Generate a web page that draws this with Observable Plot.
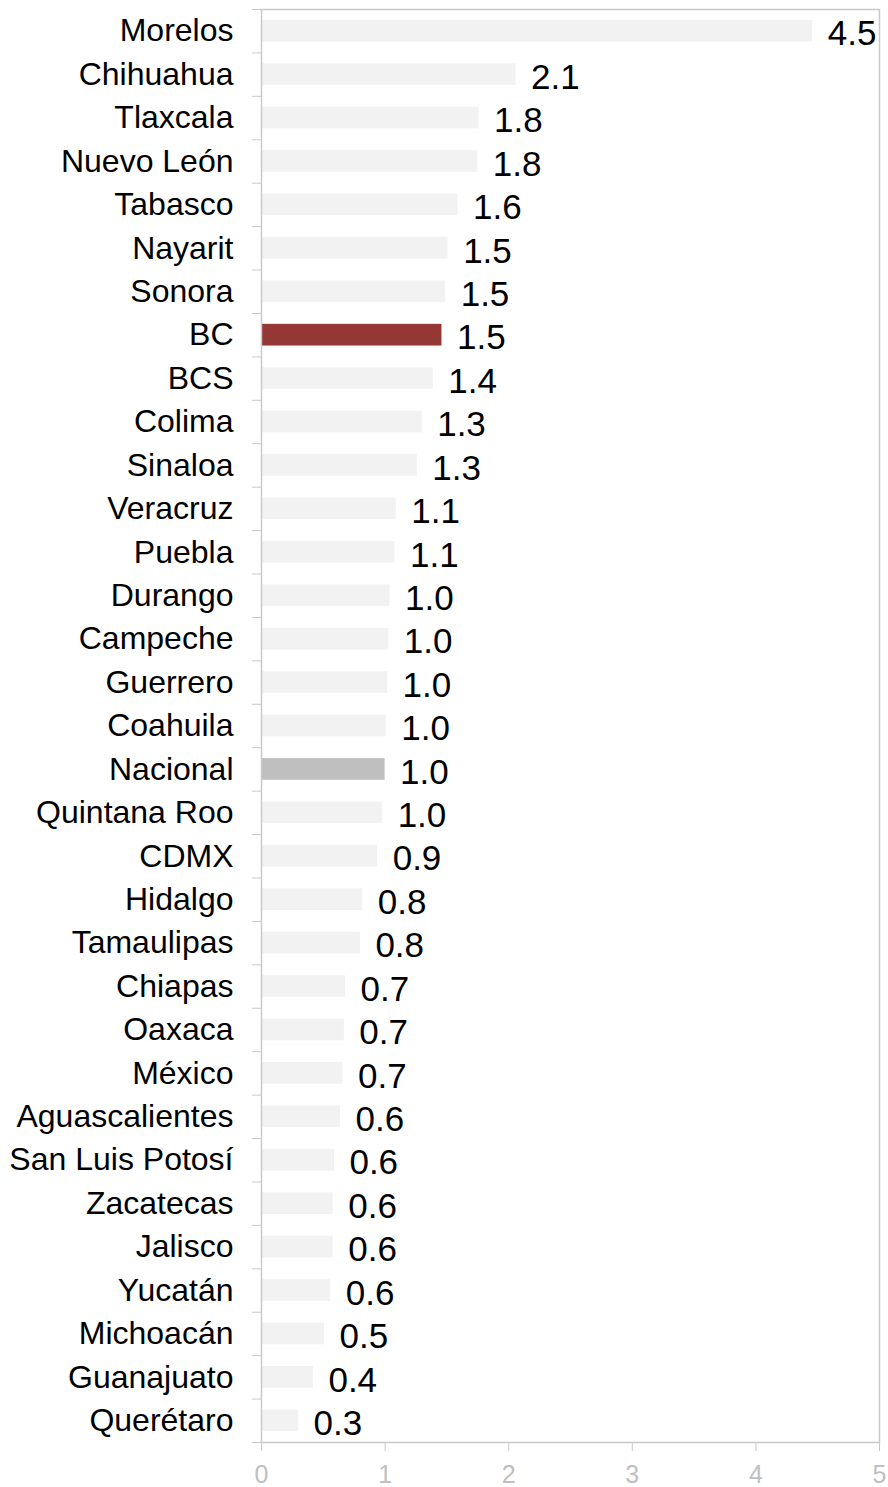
<!DOCTYPE html>
<html>
<head>
<meta charset="utf-8">
<script src="https://cdn.jsdelivr.net/npm/d3@7"></script>
<script src="https://cdn.jsdelivr.net/npm/@observablehq/plot@0.6"></script>
<style>
  html, body { margin: 0; padding: 0; background: #fff; }
  #chart svg { display: block; }
</style>
</head>
<body>
<div id="chart"></div>
<script>
// Categories (top to bottom)
const states = [
  "Morelos", "Chihuahua", "Tlaxcala", "Nuevo León", "Tabasco", "Nayarit", "Sonora",
  "BC", "BCS", "Colima", "Sinaloa", "Veracruz", "Puebla", "Durango", "Campeche",
  "Guerrero", "Coahuila", "Nacional", "Quintana Roo", "CDMX", "Hidalgo", "Tamaulipas",
  "Chiapas", "Oaxaca", "México", "Aguascalientes", "San Luis Potosí", "Zacatecas",
  "Jalisco", "Yucatán", "Michoacán", "Guanajuato", "Querétaro"
];
// Values
const values = [
  4.46, 2.06, 1.76, 1.75, 1.59, 1.51, 1.49,
  1.46, 1.39, 1.30, 1.26, 1.09, 1.08, 1.04, 1.03,
  1.02, 1.01, 1.00, 0.98, 0.94, 0.82, 0.80,
  0.68, 0.67, 0.66, 0.64, 0.59, 0.58,
  0.58, 0.56, 0.51, 0.42, 0.30
];
const xTicks = [0, 1, 2, 3, 4, 5];
const highlightColors = { "BC": "#953735", "Nacional": "#bfbfbf" };
const baseColor = "#f2f2f2";

const data = states.map((s, i) => ({ state: s, value: values[i] }));

const W = 888, H = 1487, mt = 9, mb = 45, ml = 261, mr = 9;
const step = (H - mt - mb) / states.length;
const gridColor = "#c9c9c9";

const chart = Plot.plot({
  width: W,
  height: H,
  marginTop: mt,
  marginBottom: mb,
  marginLeft: ml,
  marginRight: mr,
  style: { fontFamily: "'Liberation Sans', Arial, sans-serif", background: "#fff", color: "#000" },
  x: { domain: [0, 5], ticks: xTicks },
  y: { domain: states, paddingInner: 0.5, paddingOuter: 0.25, round: false },
  color: { type: "identity" },
  marks: [
    Plot.barX(data, {
      x: "value",
      y: "state",
      fill: d => highlightColors[d.state] || baseColor
    }),
    Plot.frame({ stroke: gridColor, strokeWidth: 1.5 }),
    // category boundary ticks on the left
    Plot.axisY({ tickSize: 9, tickFormat: () => "", dy: -step / 2, stroke: gridColor, label: null }),
    Plot.axisY({ ticks: [states[states.length - 1]], tickSize: 9, tickFormat: () => "", dy: step / 2, stroke: gridColor, label: null }),
    // category labels
    Plot.axisY({ tickSize: 0, tickPadding: 28, fontSize: 32, fill: "#000", label: null }),
    // x axis
    Plot.axisX({ ticks: xTicks, tickFormat: d3.format("d"), tickSize: 9, tickPadding: 14, fontSize: 25, fill: "#bfbfbf", stroke: gridColor, label: null }),
    // value labels
    Plot.text(data, {
      x: "value",
      y: "state",
      text: d => d.value.toFixed(1),
      textAnchor: "start",
      dx: 15,
      dy: 3,
      fontSize: 35,
      fill: "#000"
    })
  ]
});
document.getElementById("chart").appendChild(chart);
</script>
</body>
</html>
